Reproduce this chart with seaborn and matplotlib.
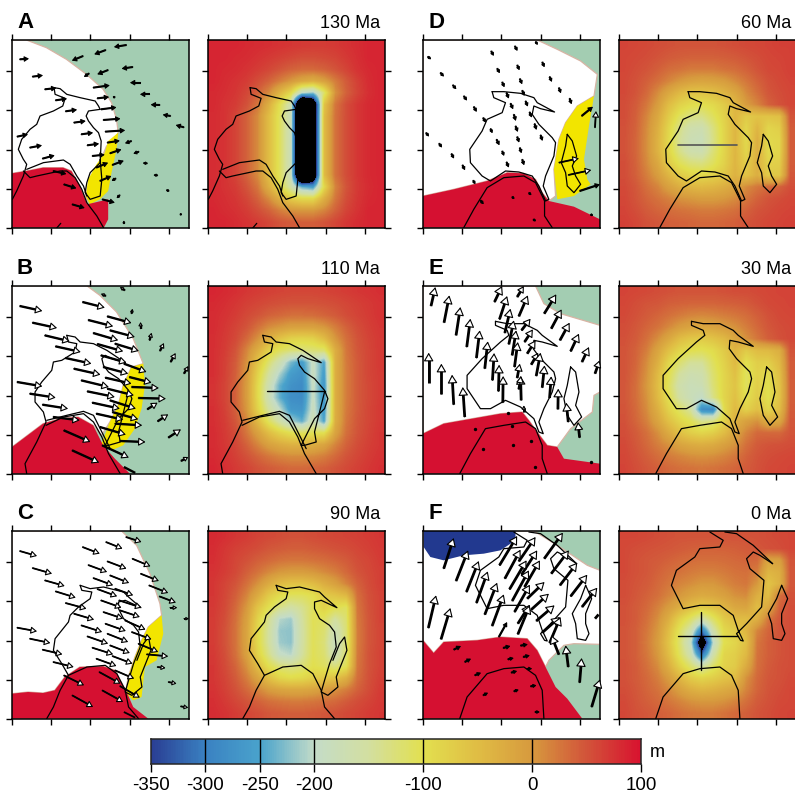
import matplotlib
matplotlib.use('Agg')
import matplotlib.pyplot as plt
import numpy as np
import seaborn as sns

W, H = 795, 794
LEVELS = [-350, -300, -250, -200, -100, 0, 100]
RAMP = ['#2a3f94', '#3a82c2', '#4aa3cc', '#c4dcc8', '#d3dfa0', '#e2e04f',
        '#e0bd44', '#d79a3e', '#d2553a', '#d8132f']
GREEN, YELLOW, RED, NAVY, FRINGE = '#a3cdb2', '#f2e500', '#d51031', '#22398f', '#d8b4a4'

# topography in metres, rows north to south
FIELD_A = [
 [85,85,85,82,80,78,75,72,70,68,68,70,75,80,85,85],
 [85,85,82,80,75,70,65,60,55,55,58,62,70,78,85,85],
 [85,82,80,75,68,60,50,40,35,35,40,50,62,75,82,85],
 [85,80,75,68,55,40,20,0,-20,-30,-10,20,45,65,80,85],
 [82,78,72,60,40,10,-40,-90,-200,-220,-120,5,40,62,78,85],
 [82,75,68,52,25,-30,-100,-170,-600,-480,-60,25,55,72,82,85],
 [80,75,62,40,10,-50,-110,-180,-600,-480,-50,28,55,72,82,85],
 [80,75,62,40,10,-50,-110,-180,-600,-480,-50,28,55,72,82,85],
 [80,75,62,40,10,-50,-110,-180,-600,-480,-50,28,55,72,82,85],
 [80,75,62,40,10,-50,-110,-180,-600,-480,-50,28,55,72,82,85],
 [80,75,62,40,10,-50,-110,-180,-600,-480,-50,28,55,72,82,85],
 [80,75,62,40,10,-50,-110,-180,-600,-480,-50,28,55,72,82,85],
 [82,75,68,50,25,-30,-90,-160,-240,-260,-90,15,50,70,80,85],
 [82,78,72,60,40,10,-30,-70,-90,-90,-30,25,55,72,82,85],
 [85,80,76,68,55,40,20,5,0,0,15,40,62,75,85,85],
 [85,85,80,75,68,60,50,45,42,42,50,60,72,80,85,85]]
FIELD_B = [
 [85,82,78,72,68,65,62,60,60,60,62,65,68,72,75,78],
 [82,78,72,65,60,55,52,50,50,50,52,55,60,65,70,75],
 [80,75,68,58,50,40,35,30,30,32,38,45,55,62,68,75],
 [80,72,62,50,30,10,0,-10,-10,-10,0,20,40,55,65,72],
 [78,70,58,35,5,-30,-60,-80,-85,-80,-50,0,30,50,62,70],
 [78,68,50,15,-30,-80,-110,-125,-130,-125,-120,-30,25,48,60,70],
 [78,65,45,5,-60,-120,-170,-230,-260,-190,-250,-30,22,45,60,70],
 [78,65,42,0,-80,-150,-210,-260,-275,-185,-260,-30,20,45,60,68],
 [75,62,40,-5,-90,-170,-240,-275,-285,-190,-270,-30,20,45,58,68],
 [75,62,40,-5,-90,-175,-240,-280,-285,-190,-270,-30,20,45,58,68],
 [78,65,42,0,-80,-150,-200,-265,-270,-185,-265,-30,22,45,60,70],
 [78,68,48,15,-45,-110,-160,-210,-240,-170,-250,-30,25,48,60,70],
 [80,70,55,25,-10,-50,-80,-100,-110,-105,-100,-15,30,50,62,72],
 [80,72,60,40,15,-10,-25,-35,-35,-30,-15,15,40,55,65,72],
 [82,75,65,52,38,25,15,10,10,12,20,35,50,60,68,75],
 [85,78,70,62,52,45,40,35,35,38,42,50,58,65,72,78]]
FIELD_C = [
 [82,78,72,68,62,58,55,52,52,55,58,60,62,65,68,72],
 [80,72,65,60,55,48,45,42,42,45,48,52,55,60,65,70],
 [78,70,60,52,42,35,28,25,25,28,32,38,45,55,60,68],
 [75,68,58,42,28,12,0,-5,-5,0,10,20,35,50,58,65],
 [72,62,50,30,5,-25,-50,-60,-60,-50,-30,-10,15,40,55,65],
 [72,60,42,15,-25,-70,-95,-110,-110,-100,-70,-60,-45,30,52,62],
 [70,58,35,0,-60,-100,-135,-155,-140,-110,-80,-100,-110,25,50,62],
 [68,55,30,-10,-80,-140,-205,-215,-150,-105,-110,-150,-120,22,48,62],
 [68,52,28,-15,-90,-150,-218,-222,-155,-105,-120,-175,-125,20,48,60],
 [68,52,28,-15,-90,-150,-215,-222,-155,-105,-125,-185,-125,20,48,60],
 [70,55,30,-10,-80,-135,-195,-205,-150,-105,-120,-175,-120,22,50,62],
 [72,58,38,5,-50,-100,-125,-135,-125,-100,-110,-130,-105,25,50,62],
 [72,62,45,20,-15,-55,-85,-95,-90,-75,-70,-60,-30,30,52,65],
 [75,65,52,35,15,-5,-15,-20,-20,-15,-5,5,20,40,55,68],
 [78,70,60,50,40,30,25,22,22,25,30,35,45,55,62,70],
 [80,75,68,60,55,48,45,42,42,45,48,52,58,62,68,72]]
FIELD_D = [
 [62,60,58,55,52,50,50,50,50,52,55,58,60,62,65,65],
 [60,58,55,50,45,42,40,40,40,42,45,50,55,60,62,65],
 [60,55,50,42,32,28,22,22,22,28,32,40,50,58,60,65],
 [58,52,42,30,15,0,-10,-15,-12,-5,10,25,40,52,58,62],
 [58,50,35,10,-20,-45,-60,-60,-55,-40,-20,10,30,48,55,60],
 [55,45,25,-5,-50,-80,-95,-100,-90,-70,-45,-5,15,40,52,60],
 [55,42,15,-20,-70,-110,-130,-135,-110,-80,-40,-70,-60,-60,-55,50],
 [52,40,10,-30,-85,-135,-165,-170,-130,-85,-40,-85,-40,-85,-75,45],
 [52,38,8,-35,-90,-145,-175,-180,-135,-85,-40,-90,-30,-90,-85,45],
 [52,38,8,-35,-85,-135,-165,-170,-125,-85,-40,-85,-30,-90,-85,45],
 [55,40,12,-20,-70,-105,-125,-130,-110,-80,-40,-75,-30,-80,-75,45],
 [55,42,20,-5,-40,-70,-85,-90,-80,-65,-35,-60,-30,-70,-65,48],
 [58,48,30,15,-10,-30,-40,-45,-40,-30,-15,10,25,35,40,55],
 [60,50,38,28,18,5,0,-5,-5,0,10,25,40,50,55,60],
 [62,55,45,38,32,28,25,22,22,25,30,40,50,55,60,62],
 [65,60,52,48,42,40,38,35,35,38,42,50,55,60,62,65]]
FIELD_E = [
 [62,60,58,55,52,50,50,50,50,52,55,55,58,60,62,62],
 [60,55,50,48,42,40,38,38,38,40,42,45,52,58,60,62],
 [58,52,45,38,30,22,15,12,15,20,25,32,42,52,58,60],
 [55,48,38,28,12,-5,-15,-20,-15,-5,5,20,35,48,55,58],
 [52,45,30,8,-20,-50,-65,-70,-60,-45,-20,5,25,42,52,58],
 [50,40,20,-15,-55,-85,-100,-105,-95,-70,-40,-70,-50,-45,-30,50],
 [50,38,10,-30,-85,-120,-145,-145,-110,-80,-45,-100,-75,-75,-45,45],
 [50,35,5,-45,-100,-150,-170,-165,-120,-85,-55,-110,-80,-95,-55,45],
 [48,32,0,-50,-110,-165,-180,-175,-125,-85,-60,-110,-75,-100,-60,42],
 [48,32,5,-45,-100,-155,-180,-195,-135,-85,-55,-100,-70,-100,-60,42],
 [50,35,10,-30,-80,-115,-150,-280,-290,-95,-45,-80,-55,-85,-50,45],
 [52,38,18,-15,-55,-85,-105,-140,-130,-80,-35,-10,5,-30,-20,48],
 [55,45,30,8,-25,-55,-75,-85,-75,-50,-15,15,35,35,35,50],
 [58,48,35,20,5,-15,-25,-30,-25,-10,5,30,45,50,52,55],
 [60,52,42,32,22,15,8,5,8,15,25,40,50,55,58,60],
 [62,55,48,42,35,30,28,25,28,32,38,45,52,58,60,62]]
FIELD_F = [
 [60,60,58,55,52,50,50,50,50,50,50,50,52,55,58,60],
 [58,55,52,50,48,45,42,40,40,40,42,45,48,52,55,60],
 [58,52,48,45,40,35,32,30,30,32,35,38,35,-15,-10,50],
 [58,52,48,40,32,28,22,18,18,22,28,30,20,-40,-30,48],
 [55,50,45,35,25,15,8,0,0,10,20,25,0,-60,-35,48],
 [55,48,40,30,15,0,-15,-25,-20,-10,5,10,-30,-50,30,52],
 [52,45,35,18,-5,-30,-55,-70,-60,-40,-20,-15,-50,-20,40,55],
 [52,45,30,8,-30,-80,-115,-160,-115,-70,-50,-50,-30,25,48,55],
 [50,42,25,0,-50,-110,-165,-300,-165,-90,-70,-40,15,38,50,55],
 [50,42,22,-5,-60,-120,-195,-440,-205,-100,-85,-55,25,42,50,55],
 [50,42,25,0,-50,-110,-170,-310,-165,-85,-75,-45,28,42,50,55],
 [52,45,30,10,-30,-80,-120,-160,-115,-80,-70,-25,30,45,52,55],
 [52,45,35,20,-5,-40,-70,-85,-75,-60,-50,5,35,48,52,58],
 [55,48,38,28,12,-10,-30,-40,-35,-25,-15,15,38,50,55,60],
 [58,50,42,35,25,15,5,0,0,5,15,30,45,52,58,60],
 [60,52,48,42,38,30,25,22,22,28,35,42,50,55,60,62]]

# coastlines, read in map units with the panel origin still included
COAST_A = [
 [(752,265),(770,268),(790,285),(830,295),(875,305),(885,320),(890,330),(855,335),(848,350),(855,365),(870,385),(885,400),(893,425),(890,490),(860,520),(850,550),(845,580),(860,600),(890,590),(895,540),(890,480)],
 [(752,265),(755,285),(785,297),(778,320),(750,335),(710,350),(700,375),(680,390),(655,420),(645,450),(660,480),(670,495),(660,530),(640,575),(627,600)],
 [(660,515),(680,535),(700,530),(770,515),(790,515),(815,535),(835,570),(850,610),(880,650),(900,685)],
 [(670,510),(720,490),(780,482),(800,495),(820,530),(840,560),(850,590)],
 [(772,672),(760,686)]]
COAST_B = [
 [(790,270),(815,275),(830,290),(870,295),(910,315),(925,325),(965,352),(925,340),(905,330),(895,340),(900,360),(915,380),(945,400),(975,435),(985,460),(975,490),(945,520),(920,570),(905,600),(915,600),(950,590),(945,560),(975,440)],
 [(790,270),(795,290),(820,295),(815,320),(775,345),(750,350),(745,375),(715,410),(695,440),(695,470),(720,500),(728,530),(700,590),(665,655),(670,685)],
 [(728,540),(780,515),(840,505),(870,530),(895,575),(915,625),(950,685)],
 [(730,525),(790,510),(840,498),(870,510),(900,570),(920,610)]]
COAST_C = [
 [(830,285),(860,295),(900,290),(960,305),(975,320),(1012,352),(965,330),(945,335),(945,355),(960,385),(990,405),(1005,425),(1010,470),(990,520),(975,570),(965,605),(985,615),(1015,590),(1010,560),(1030,510),(1042,480),(1035,440),(1020,460),(1000,510)],
 [(830,285),(835,300),(865,305),(860,325),(825,350),(800,375),(795,395),(755,445),(750,480),(775,520),(795,555),(770,600),(750,650),(730,685)],
 [(795,555),(850,530),(905,525),(940,550),(965,600),(975,650),(1005,685)]]
COAST_D = [
 [(865,277),(900,277),(950,282),(990,295),(1000,310),(1052,338),(1010,328),(990,320),(985,345),(1005,375),(1045,415),(1055,430),(1050,470),(1025,530),(1018,560),(1035,600),(1025,605),(1005,560),(985,530),(945,518),(905,515),(860,545),(835,530),(800,490),(798,450),(835,395),(850,360),(895,340),(905,310),(870,295),(865,277)],
 [(780,685),(810,630),(850,565),(900,535),(960,530),(995,550),(1015,590),(1022,605),(1022,650),(1045,685)],
 [(1090,405),(1105,425),(1118,470),(1105,500),(1115,530),(1130,555),(1110,580),(1090,560),(1085,520),(1072,490),(1085,440),(1090,405)]]
COAST_E = [
 [(875,228),(910,235),(960,235),(1000,255),(1015,270),(1060,303),(1015,290),(990,285),(988,310),(1010,340),(1050,380),(1055,400),(1045,440),(1020,490),(1005,530),(1018,565),(1005,560),(990,520),(950,485),(905,465),(860,490),(830,490),(790,430),(790,390),(835,340),(890,290),(915,270),(910,255),(875,240),(875,228)],
 [(768,685),(800,625),(845,550),(900,540),(965,530),(995,550),(1015,600),(1015,640),(1030,685)],
 [(1100,365),(1115,380),(1125,440),(1115,480),(1133,515),(1110,540),(1090,510),(1080,460),(1090,420),(1100,365)]]
COAST_F = [
 [(930,125),(970,150),(960,170),(900,175),(885,200),(830,240),(815,285),(850,355),(900,345),(960,345),(1000,375),(1015,420),(1030,452),(1022,450),(1010,430),(1040,400),(1085,350),(1092,270),(1050,235),(1040,205),(1060,185),(1080,195),(1118,220)],
 [(975,125),(1010,130),(1060,165),(1118,220)],
 [(768,685),(790,620),(850,550),(900,535),(960,530),(995,555),(1015,600),(1020,685)],
 [(1145,285),(1163,325),(1145,370),(1145,400),(1155,430),(1145,450),(1120,445),(1115,400),(1105,370),(1130,325),(1145,285)]]

# land and sea regions of the left panels
WHITE_A = [(37,122),(80,122),(140,145),(200,180),(260,225),(310,270),(335,310),(350,360),(355,400),(340,430),(320,440),(300,490),(270,540),(258,590),(262,610),(240,560),(215,515),(190,505),(130,505),(80,515),(37,522)]
YELLOW_A = [(355,400),(350,450),(335,520),(325,575),(300,600),(270,615),(258,590),(265,540),(290,495),(315,460),(325,425)]
RED_A = [(37,522),(80,515),(130,505),(190,505),(215,515),(240,560),(262,615),(325,600),(325,660),(312,685),(37,685)]
WHITE_B = [(37,122),(262,122),(300,150),(350,200),(400,280),(430,355),(395,365),(370,420),(355,480),(330,530),(305,570),(280,540),(235,515),(180,520),(130,535),(37,605)]
YELLOW_B = [(430,355),(435,420),(425,490),(405,550),(370,600),(335,615),(305,595),(330,530),(355,480),(370,420),(395,365)]
RED_B = [(37,605),(130,535),(180,520),(235,515),(280,540),(310,600),(345,640),(390,685),(37,685)]
WHITE_C = [(37,122),(365,122),(410,165),(450,250),(480,340),(485,375),(445,410),(425,450),(405,500),(385,560),(378,600),(345,540),(310,528),(240,530),(195,560),(165,600),(130,608),(85,605),(37,610)]
YELLOW_C = [(485,375),(490,430),(470,510),(435,530),(425,620),(400,630),(380,610),(385,560),(405,500),(425,450),(445,410)]
RED_C = [(37,610),(85,605),(130,608),(165,600),(195,560),(240,530),(310,528),(345,540),(378,600),(400,650),(445,685),(37,685)]
WHITE_D = [(68,122),(410,122),(470,150),(540,185),(590,225),(580,290),(530,320),(495,370),(475,420),(460,510),(465,590),(445,605),(425,580),(405,540),(370,522),(320,520),(260,545),(160,570),(68,590)]
YELLOW_D = [(580,290),(565,380),(550,480),(560,540),(570,555),(520,590),(470,600),(460,510),(475,420),(495,370),(530,320)]
RED_D = [(68,590),(160,570),(260,545),(320,520),(370,522),(405,540),(425,580),(445,605),(520,622),(598,660),(598,685),(68,685)]
WHITE_E = [(68,122),(405,122),(430,175),(480,205),(598,240),(598,440),(580,450),(575,500),(510,550),(470,605),(440,600),(410,560),(385,525),(365,500),(300,505),(215,520),(130,535),(68,565)]
RED_E = [(68,565),(130,535),(215,520),(300,505),(365,500),(385,525),(410,560),(440,600),(470,605),(490,640),(598,655),(598,685),(68,685)]
WHITE_F = [(68,122),(400,122),(470,165),(560,225),(598,240),(598,462),(520,460),(490,465),(445,510),(435,530),(410,480),(380,445),(300,440),(230,450),(130,455),(100,488),(68,450)]
RED_F = [(68,450),(100,488),(130,455),(230,450),(300,440),(380,445),(410,480),(435,530),(465,590),(500,625),(545,685),(68,685)]
NAVY_F = [(70,122),(345,122),(345,150),(300,180),(250,190),(190,195),(130,210),(90,200),(70,170)]

# plate motion, tail x, tail y, tip x, tip y
ARROWS_A = [(60,180,88,178),(98,232,130,228),(135,270,170,266),(167,303,202,298),(197,336,232,331),(222,370,258,365),(244,405,280,400),(262,438,298,433),(277,470,315,466),(289,505,325,490),(300,545,335,530),
 (52,412,85,405),(90,445,127,438),(128,478,165,468),(160,515,200,524),(192,555,230,567),(217,615,255,626),(307,600,345,610),
 (280,265,330,258),(292,297,328,293),(303,330,350,324),(310,362,362,358),(316,397,376,393),(322,430,360,424),(330,462,365,450),(337,497,372,484),
 (380,137,342,143),(318,152,283,165),(250,170,216,184),(399,203,365,208),(325,212,292,225),(268,222,252,233),(422,250,390,250),(449,285,420,285),(480,317,452,316),(512,350,488,346),(552,384,527,377),(395,425,375,432),(417,457,400,463),(442,492,428,491),(473,528,460,527),(507,575,497,571),(543,647,541,640),(372,673,372,663),(360,587,350,597),(348,537,335,545),(345,295,338,290)]
ARROWS_B = [(60,182,128,197),(98,232,172,248),(135,270,210,288),(167,303,243,320),(197,338,275,355),(222,370,302,388),(244,405,327,425),(262,438,345,455),(277,472,360,490),(289,505,370,523),(300,545,378,568),
 (52,410,128,423),(90,445,168,457),(128,478,205,490),(160,515,240,525),(192,555,272,590),(217,615,298,652),
 (248,170,315,187),(265,224,340,243),(280,263,355,285),(292,296,370,318),(303,330,380,352),(310,365,385,385),(316,397,395,415),(322,430,402,450),(330,465,408,490),(337,500,415,522),(345,535,427,540),(360,587,437,590),(307,600,387,637),
 (322,213,395,233),(330,255,405,275),(345,295,417,317),(372,355,440,380),(388,395,455,412),(395,425,477,428),(415,458,498,460),(442,492,473,472),(473,528,505,507),(505,577,543,552),(543,647,565,635),(552,385,565,362),(512,350,527,323),(480,317,492,293),(449,285,455,262),(422,250,422,230),(395,205,398,190),(375,135,360,125),(318,152,303,145),(372,665,420,690)]
ARROWS_C = [(60,182,112,197),(98,233,157,250),(135,270,195,287),(167,303,228,322),(197,338,260,355),(222,370,283,388),(244,405,307,425),(262,438,325,460),(277,472,340,492),(289,505,350,527),(298,545,362,580),
 (192,555,253,585),(217,615,280,650),(307,600,370,635),(52,412,112,423),(90,445,152,458),(128,478,188,492),(160,515,222,530),
 (248,170,300,190),(265,224,322,245),(280,263,340,285),(292,296,352,318),(303,330,365,352),(310,365,370,385),(316,400,378,422),(322,430,385,455),(330,465,390,488),(337,497,398,520),(345,540,403,565),(360,587,420,622),
 (318,155,368,175),(322,213,380,235),(330,255,388,278),(345,295,400,315),(357,330,425,352),(360,360,420,380),(375,390,437,418),(395,425,455,447),(415,460,475,485),(440,492,505,498),(472,530,497,533),(505,575,530,580),(542,648,565,652),(552,385,567,385),(510,352,532,352),(478,318,528,337),(447,285,505,308),(422,250,477,272),(397,205,452,228),(378,140,425,155),(372,665,418,688)]
ARROWS_D = [(82,172,93,180),(120,220,131,232),(157,257,168,270),(190,290,200,304),(220,322,229,338),(248,355,256,370),(270,388,276,402),(288,420,297,438),(305,455,311,470),(318,488,325,505),(77,400,86,412),(116,432,125,445),(153,463,161,478),(186,497,194,513),(218,543,225,555),(240,603,250,615),(335,592,342,600),(385,580,393,588),(398,660,407,666),(570,645,578,650),
 (272,155,280,170),(290,207,298,222),(305,248,312,264),(318,280,325,298),(330,312,338,330),(340,345,346,365),(345,380,352,398),(350,412,356,430),(358,445,363,462),(365,480,371,498),(343,140,351,155),(350,197,357,213),(358,238,365,255),(365,273,372,290),(375,305,382,322),(387,338,394,355),(402,373,408,392),(420,407,426,425),(425,188,432,204),(447,232,454,248),(475,265,481,282),(507,297,513,315),(405,127,412,137),(543,350,577,322),(537,575,598,555)]
ARROWS_D_OPEN = [(583,385,586,335),(475,490,535,477),(503,527,572,512)]
ARROWS_E = [(85,412,85,322),(123,446,123,355),(160,478,155,388),(193,515,187,425),(131,232,147,150),(167,270,180,185),(199,305,210,220),(228,338,238,255),(253,370,262,288),(276,405,281,323),(294,438,296,358),(307,472,308,392),(362,465,360,392),(92,182,105,125),
 (282,170,305,122),(297,222,320,152),(313,263,330,190),(325,297,340,225),(335,330,347,255),(342,365,352,290),(350,398,358,355),(355,432,362,392),(370,500,370,480),
 (350,155,370,122),(355,213,382,150),(363,255,390,220),(372,290,397,252),(380,325,405,285),(392,358,413,322),(407,392,420,322),(425,427,432,360),(447,458,452,393),(472,492,473,430),(503,530,497,472),(537,577,532,530),
 (431,205,467,147),(452,250,483,192),(478,285,507,232),(510,318,535,265),(544,350,565,305),(583,385,597,345)]
DOTS_E = [(225,552),(248,612),(338,600),(390,586),(403,665),(572,650),(333,543),(323,503)]
ARROWS_F = [(130,235,160,143),(167,272,203,180),(198,305,235,212),(228,338,262,243),(253,373,290,277),(275,407,310,312),(84,413,107,315),(122,447,150,353),
 (297,225,350,137),(313,265,360,178),(327,297,378,210),(335,332,385,240),(342,365,388,283),(352,400,388,343),(352,432,388,345),
 (355,213,405,140),(363,253,410,180),(372,290,418,210),(380,325,432,275),(392,358,445,310),(407,392,462,345),(425,427,478,380),(447,458,480,380),
 (431,205,487,127),(452,250,505,180),(478,285,530,217),(510,318,560,253),(544,350,590,292),(583,385,600,365),(475,493,452,435),(503,530,495,465),(537,577,543,503),(573,650,598,567)]
ARROWS_F_SOLID = [(295,440,320,395),(160,478,182,467),(193,515,212,505),(223,555,242,547),(248,615,263,607),(308,473,330,467),(322,507,340,503),(332,547,350,542),(340,603,355,598),(360,466,382,462),(368,500,388,495),(378,535,395,535),(390,588,408,585),(403,665,418,665)]

sns.set_style('ticks')
plt.rcParams['font.family'] = ['Liberation Sans', 'DejaVu Sans']
plt.rcParams['text.color'] = 'black'
cmap = sns.blend_palette(RAMP, n_colors=256, as_cmap=True)
cmap.set_under('black')
fig = plt.figure(figsize=(W / 100, H / 100), dpi=100)


def panel(x0, y0, right_ticks=False, left_ticks=True):
    ax = fig.add_axes([x0 / W, 1 - (y0 + 188) / H, 177 / W, 188 / H])
    ax.set_xlim(0, 530)
    ax.set_ylim(564, 0)
    ax.set_xticks([0, 117, 235, 352, 470])
    ax.set_yticks([94, 211, 329, 446, 564])
    ax.tick_params(top=True, bottom=True, left=left_ticks, right=right_ticks, length=4, width=1,
                   labelbottom=False, labelleft=False, color='black')
    for s in ax.spines.values():
        s.set_linewidth(1.1)
        s.set_color('black')
    return ax


def poly(ax, pts, ox, color, edge='none'):
    p = np.array(pts, float)
    ax.fill(p[:, 0] - ox, p[:, 1] - 122, color=color, ec=edge, lw=0.9)


def arrows(ax, rows, ox, face, lw=1.5, base=5.0):
    for x0, y0, x1, y1 in rows:
        tail = np.array([x0 - ox, y0 - 122], float)
        tip = np.array([x1 - ox, y1 - 122], float)
        size = np.hypot(*(tip - tail))
        mut = min(base, size / 6)
        head = mut * 2.5
        end = tip - (tip - tail) / size * head * 0.9
        ax.plot([tail[0], end[0]], [tail[1], end[1]], color='black', lw=lw, solid_capstyle='butt', zorder=3)
        ax.annotate('', xy=tip, xytext=tail, annotation_clip=True, zorder=4,
                    arrowprops=dict(arrowstyle='-|>,head_length=0.6,head_width=0.35', mutation_scale=mut,
                                    fc=face, ec='black', lw=0.8, shrinkA=0, shrinkB=0))


def coast(ax, curves, ox):
    for c in curves:
        p = np.array(c, float)
        ax.plot(p[:, 0] - ox, p[:, 1] - 122, color='black', lw=0.9, zorder=2)


rows = [
    ('A', '130 Ma', 12, 40, FIELD_A, COAST_A, WHITE_A, YELLOW_A, RED_A, ARROWS_A, 'black', 37, 626, 1.5, 4.5),
    ('B', '110 Ma', 12, 286, FIELD_B, COAST_B, WHITE_B, YELLOW_B, RED_B, ARROWS_B, 'white', 37, 626, 1.7, 7),
    ('C', '90 Ma', 12, 531, FIELD_C, COAST_C, WHITE_C, YELLOW_C, RED_C, ARROWS_C, 'white', 37, 626, 1.3, 6),
    ('D', '60 Ma', 423, 40, FIELD_D, COAST_D, WHITE_D, YELLOW_D, RED_D, ARROWS_D, 'black', 68, 658, 1.6, 4.5),
    ('E', '30 Ma', 423, 286, FIELD_E, COAST_E, WHITE_E, None, RED_E, ARROWS_E, 'white', 68, 658, 2.0, 8.5),
    ('F', '0 Ma', 423, 531, FIELD_F, COAST_F, WHITE_F, None, RED_F, ARROWS_F, 'white', 68, 658, 2.0, 8.5),
]
for letter, age, x0, y0, field, shore, white, yellow, red, arr, face, ol, or_, shaft, base in rows:
    ax = panel(x0, y0)
    ax.set_facecolor(GREEN)
    poly(ax, white, ol, 'white', FRINGE)
    if yellow is not None:
        poly(ax, yellow, ol, YELLOW)
    poly(ax, red, ol, RED)
    if letter == 'F':
        poly(ax, NAVY_F, ol, NAVY)
    coast(ax, shore, or_)
    arrows(ax, arr, ol, face, shaft, base)
    if letter == 'D':
        arrows(ax, ARROWS_D_OPEN, ol, 'white', 1.3, 6)
    if letter == 'E':
        d = np.array(DOTS_E, float)
        ax.scatter(d[:, 0] - ol, d[:, 1] - 122, s=2, color='black', zorder=4)
    if letter == 'F':
        arrows(ax, ARROWS_F_SOLID, ol, 'black', 1.6, 4)

    ax2 = panel(x0 + 196, y0, right_ticks=True)
    ax2.imshow(field, cmap=cmap, vmin=-350, vmax=100, extent=(0, 530, 564, 0), aspect='auto', interpolation='bilinear')
    coast(ax2, shore, or_)
    if letter == 'B':
        ax2.plot([176, 349], [316, 316], color='black', lw=1)
    if letter == 'D':
        ax2.plot([177, 352], [315, 315], color='#555555', lw=1.2)
    if letter == 'F':
        ax2.plot([177, 357], [316, 316], color='black', lw=1)
        ax2.plot([247, 247], [243, 418], color='black', lw=1)

    fig.text((x0 + 5) / W, 1 - (y0 - 12) / H, letter, fontsize=16, fontweight='bold', va='baseline', ha='left')
    fig.text((x0 + 368) / W, 1 - (y0 - 12) / H, age, fontsize=13, va='baseline', ha='right')

# colour bar
cax = fig.add_axes([151 / W, 1 - 764 / H, 490 / W, 25 / H])
grad = np.linspace(-350, 100, 450)[None, :]
sns.heatmap(grad, ax=cax, cmap=cmap, vmin=-350, vmax=100, cbar=False, xticklabels=False, yticklabels=False)
pos = [v + 350 for v in LEVELS]
cax.set_xticks(pos)
cax.set_xticklabels([str(v) for v in LEVELS], fontsize=13.5, rotation=0)
cax.set_yticks([])
cax.tick_params(axis='x', length=6, width=1, pad=3, color='black', labelcolor='black')
for v in pos[1:-1]:
    cax.axvline(v, color='black', lw=1)
for s in cax.spines.values():
    s.set_visible(True)
    s.set_linewidth(1.1)
fig.text(650 / W, 1 - 757 / H, 'm', fontsize=13, va='baseline')

fig.savefig('out.png', dpi=100)
